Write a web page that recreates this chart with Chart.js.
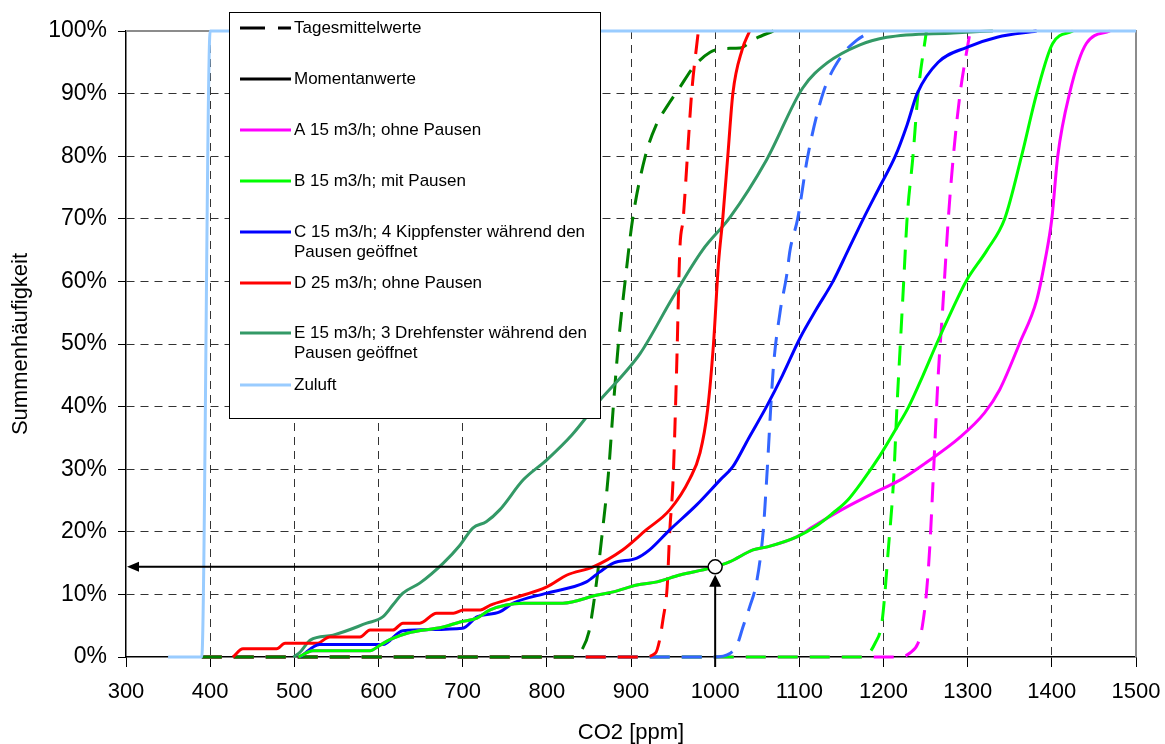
<!DOCTYPE html>
<html>
<head>
<meta charset="utf-8">
<script src="https://cdn.jsdelivr.net/npm/chart.js@4.4.0/dist/chart.umd.min.js"></script>
<style>
  html, body { margin: 0; padding: 0; background: #fff; }
</style>
</head>
<body>
<canvas id="co2Chart" width="1165" height="744"></canvas>
<script>
// Momentanwerte (solid lines), x = CO2 ppm, y = Summenhäufigkeit %
const aMomX = [505, 522, 590, 602, 614, 634, 677, 697, 717, 732, 772, 819, 860, 879, 907, 931, 958, 994, 1017, 1045, 1062, 1097, 1116, 1150, 1196, 1220, 1250, 1290, 1320, 1338, 1362, 1382, 1392, 1400, 1407, 1421, 1441, 1469];
const aMomY = [0, 1, 1, 1.9, 2.8, 3.8, 4.8, 5.6, 6.2, 7.5, 8.6, 8.6, 9.9, 10.4, 11.5, 12, 13.1, 14.2, 15.2, 17.1, 17.6, 19.2, 20.8, 23.5, 26.7, 28.3, 31, 35, 39, 42.7, 50.2, 57, 63.4, 70, 80, 90, 98, 100];

const bMomX = [505, 522, 590, 602, 614, 634, 677, 697, 717, 732, 772, 819, 860, 879, 907, 931, 958, 994, 1017, 1045, 1062, 1097, 1121, 1140, 1157, 1176, 1195, 1216, 1230, 1247, 1263, 1280, 1298, 1323, 1344, 1364, 1382, 1401, 1425];
const bMomY = [0, 1, 1, 1.9, 2.8, 3.8, 4.8, 5.6, 6.2, 7.5, 8.6, 8.6, 9.9, 10.4, 11.5, 12, 13.1, 14.2, 15.2, 17.1, 17.6, 19.2, 21, 23, 25, 28.3, 32, 36.7, 40, 45, 50, 55, 60, 65, 70, 80, 90, 98, 100];

const cMomX = [507, 530, 605, 629, 700, 717, 744, 760, 800, 847, 863, 879, 907, 922, 946, 978, 1006, 1021, 1040, 1061, 1080, 1101, 1120, 1140, 1158, 1176, 1195, 1214, 1228, 1240, 1265, 1299, 1335, 1382];
const cMomY = [0, 2, 2, 4.2, 4.6, 6.4, 7.2, 8.6, 10.2, 12, 13.6, 15, 15.8, 17.1, 20.3, 24.3, 28.3, 30.4, 35, 40, 45, 51, 55.5, 60, 65, 70, 75, 80, 85, 90, 95, 97.4, 99, 100];

const dMomX = [427, 439, 479, 489, 527, 542, 578, 590, 617, 629, 649, 669, 689, 701, 721, 733, 760, 800, 824, 855, 890, 918, 946, 970, 982, 991, 998, 1004, 1009, 1015, 1021, 1032, 1041];
const dMomY = [0, 1.3, 1.3, 2.2, 2.2, 3.2, 3.2, 4.3, 4.3, 5.4, 5.4, 7, 7, 7.5, 7.5, 8.3, 9.4, 11.2, 13.1, 14.4, 17.1, 20.3, 23.5, 28.5, 32.6, 39.5, 50, 63, 70, 80, 90, 97, 100];

const eMomX = [499, 507, 519, 546, 586, 605, 617, 629, 649, 677, 697, 712, 728, 744, 772, 800, 830, 863, 890, 911, 950, 985, 1018, 1061, 1104, 1133, 1172, 1204, 1283, 1330];
const eMomY = [0, 0.8, 2.7, 3.5, 5.4, 6.4, 8.3, 10.2, 11.8, 15, 17.9, 20.6, 21.6, 23.5, 28.3, 31.5, 35.5, 41, 45, 48.5, 57.5, 65, 70.3, 79.4, 90.9, 94.9, 97.8, 99, 99.7, 100];

// Tagesmittelwerte (dashed lines)
const aDayX = [390, 1220, 1231, 1241, 1246, 1251, 1255, 1259, 1265, 1270, 1277, 1283, 1291, 1303];
const aDayY = [0, 0, 0.6, 2.2, 4.8, 10.2, 17.6, 28.3, 45, 55, 70, 80, 90, 100];

const bDayX = [390, 1176, 1190, 1198, 1202, 1205, 1212, 1216, 1220, 1224, 1228, 1235, 1241, 1251];
const bDayY = [0, 0, 2.2, 5.4, 10.7, 16, 28.3, 40, 50, 60, 70, 80, 90, 100];

const cDayX = [390, 998, 1018, 1026, 1033, 1041, 1049, 1057, 1061, 1069, 1077, 1085, 1089, 1098, 1110, 1128, 1150, 1168, 1186];
const cDayY = [0, 0, 0.6, 1.9, 4.8, 8, 11.8, 20, 28, 46, 55, 61, 65, 70, 80, 90, 96, 98.5, 100];

const dDayX = [390, 914, 929, 934, 938, 943, 946, 950, 954, 958, 962, 967, 972, 980];
const dDayY = [0, 0, 0.6, 2.7, 6, 11.2, 20, 28.3, 45, 65, 70, 80, 90, 100];

const eDayX = [390, 831, 843, 850, 855, 860, 866, 873, 879, 885, 893, 902, 917, 930, 943, 958, 974, 994, 1010, 1030, 1045, 1069];
const eDayY = [0, 0, 1.5, 4, 8, 13, 20, 29, 40, 50, 60, 70, 80, 85, 88, 91, 94.2, 96.6, 97.2, 97.3, 98.6, 100];

// Zuluft
const zulX = [350, 390, 400, 1500];
const zulY = [0, 0, 100, 100];

// Ablesebeispiel (Pfeile)
const markX = 1000;
const markY = 14.4;

const xTicksMin = 300, xTicksMax = 1500, xStep = 100;
const yTicksMin = 0, yTicksMax = 100, yStep = 10;

function pairs(xs, ys) {
  return xs.map((x, i) => ({ x: x, y: ys[i] }));
}

const dashStyle = [20, 12];
const FONT = "'Liberation Sans', Arial, sans-serif";

function series(label, xs, ys, color, dashed, order) {
  return {
    label: label,
    data: pairs(xs, ys),
    borderColor: color,
    backgroundColor: color,
    borderWidth: 3,
    borderDash: dashed ? dashStyle : [],
    pointRadius: 0,
    cubicInterpolationMode: "monotone",
    fill: false,
    clip: 4,
    order: order,
  };
}

// Legendeneinträge (werden im Plugin gezeichnet)
const legendItems = [
  { text: ["Tagesmittelwerte"], color: "#000", dashed: true },
  { text: ["Momentanwerte"], color: "#000" },
  { text: ["A 15 m3/h; ohne Pausen"], color: "#FF00FF" },
  { text: ["B 15 m3/h; mit Pausen"], color: "#00FF00" },
  { text: ["C 15 m3/h; 4 Kippfenster während den", "Pausen geöffnet"], color: "#0000FF" },
  { text: ["D 25 m3/h; ohne Pausen"], color: "#FF0000" },
  { text: ["E 15 m3/h; 3 Drehfenster während den", "Pausen geöffnet"], color: "#339966" },
  { text: ["Zuluft"], color: "#99CCFF" },
];
const legendRowY = [28, 79, 130, 181, 232, 283, 333, 385];

const framePlugin = {
  id: "frame",
  beforeDatasetsDraw(chart) {
    const { ctx, chartArea: a } = chart;
    ctx.save();
    ctx.strokeStyle = "#8c8c8c";
    ctx.lineWidth = 2;
    ctx.beginPath();
    ctx.moveTo(a.left, a.top);
    ctx.lineTo(a.right, a.top);
    ctx.lineTo(a.right, a.bottom);
    ctx.stroke();
    ctx.restore();
  },
  afterDraw(chart) {
    const { ctx, chartArea: a } = chart;
    const xs = chart.scales.x, ys = chart.scales.y;

    // Ablesepfeile
    const px = xs.getPixelForValue(markX);
    const py = ys.getPixelForValue(markY);
    const r = 7;
    ctx.save();
    ctx.strokeStyle = "#000";
    ctx.fillStyle = "#000";
    ctx.lineWidth = 2;
    ctx.beginPath();
    ctx.moveTo(px - r, py);
    ctx.lineTo(a.left + 11, py);
    ctx.moveTo(px, a.bottom + 10);
    ctx.lineTo(px, py + r + 11);
    ctx.stroke();
    ctx.beginPath();
    ctx.moveTo(a.left + 1, py);
    ctx.lineTo(a.left + 13, py - 5);
    ctx.lineTo(a.left + 13, py + 5);
    ctx.closePath();
    ctx.fill();
    ctx.beginPath();
    ctx.moveTo(px, py + r + 1);
    ctx.lineTo(px - 6, py + r + 13);
    ctx.lineTo(px + 6, py + r + 13);
    ctx.closePath();
    ctx.fill();
    ctx.beginPath();
    ctx.arc(px, py, r, 0, Math.PI * 2);
    ctx.fillStyle = "#fff";
    ctx.fill();
    ctx.lineWidth = 1.5;
    ctx.stroke();

    // Legende
    ctx.fillStyle = "#fff";
    ctx.fillRect(229.5, 12.5, 371, 406);
    ctx.lineWidth = 1;
    ctx.strokeStyle = "#000";
    ctx.strokeRect(229.5, 12.5, 371, 406);
    ctx.font = "17px " + FONT;
    ctx.textBaseline = "middle";
    legendItems.forEach((it, i) => {
      const y = legendRowY[i];
      ctx.strokeStyle = it.color;
      ctx.lineWidth = 3;
      ctx.beginPath();
      if (it.dashed) {
        ctx.moveTo(240, y); ctx.lineTo(265, y);
        ctx.moveTo(278, y); ctx.lineTo(291, y);
      } else {
        ctx.moveTo(240, y); ctx.lineTo(291, y);
      }
      ctx.stroke();
      ctx.fillStyle = "#000";
      it.text.forEach((t, k) => ctx.fillText(t, 294, y + k * 20));
    });
    ctx.restore();
  },
};

const gridColor = (edgeA, edgeB) => (c) =>
  c.tick && (c.tick.value === edgeA || c.tick.value === edgeB) ? "rgba(0,0,0,0)" : "#333";

const ctx = document.getElementById("co2Chart").getContext("2d");
new Chart(ctx, {
  type: "line",
  plugins: [framePlugin],
  data: {
    datasets: [
      series("Zuluft", zulX, zulY, "#99CCFF", false, 0),
      series("B Momentanwerte", bMomX, bMomY, "#00FF00", false, 1),
      series("A Momentanwerte", aMomX, aMomY, "#FF00FF", false, 1),
      series("C Momentanwerte", cMomX, cMomY, "#0000FF", false, 1),
      series("D Momentanwerte", dMomX, dMomY, "#FF0000", false, 1),
      series("E Momentanwerte", eMomX, eMomY, "#339966", false, 1),
      series("E Tagesmittelwerte", eDayX, eDayY, "#008000", true, 2),
      series("D Tagesmittelwerte", dDayX, dDayY, "#FF0000", true, 3),
      series("C Tagesmittelwerte", cDayX, cDayY, "#3366FF", true, 4),
      series("B Tagesmittelwerte", bDayX, bDayY, "#00FF00", true, 5),
      series("A Tagesmittelwerte", aDayX, aDayY, "#FF00FF", true, 6),
    ],
  },
  options: {
    responsive: false,
    animation: false,
    devicePixelRatio: 1,
    layout: { padding: { left: 0, top: 31, right: 29, bottom: 0 } },
    plugins: {
      legend: { display: false },
      tooltip: { enabled: false },
    },
    scales: {
      x: {
        type: "linear",
        min: xTicksMin,
        max: xTicksMax,
        ticks: { stepSize: xStep, color: "#000", font: { family: FONT, size: 22 }, padding: 12, callback: (v) => String(v) },
        grid: { color: gridColor(xTicksMin, xTicksMax), tickColor: "#000", tickLength: 10, lineWidth: 1 },
        border: { color: "#000", width: 1.5, dash: [8, 6] },
        title: { display: true, text: "CO2 [ppm]", color: "#000", font: { family: FONT, size: 22, lineHeight: 1 }, padding: 0 },
        afterFit(scale) {
          scale.height = 87;
          scale.paddingLeft = 0;
          scale.paddingRight = 0;
        },
      },
      y: {
        type: "linear",
        min: yTicksMin,
        max: yTicksMax,
        ticks: { stepSize: yStep, color: "#000", font: { family: FONT, size: 23 }, padding: 11, callback: (v) => v + "%" },
        grid: { color: gridColor(yTicksMin, yTicksMax), tickColor: "#000", tickLength: 8, lineWidth: 1 },
        border: { color: "#000", width: 1.5, dash: [8, 6] },
        title: { display: true, text: "Summenhäufigkeit", color: "#000", font: { family: FONT, size: 22, lineHeight: 1 }, padding: 10 },
        afterFit(scale) {
          scale.width = 126;
          scale.paddingTop = 0;
          scale.paddingBottom = 0;
        },
      },
    },
  },
});
</script>
</body>
</html>
